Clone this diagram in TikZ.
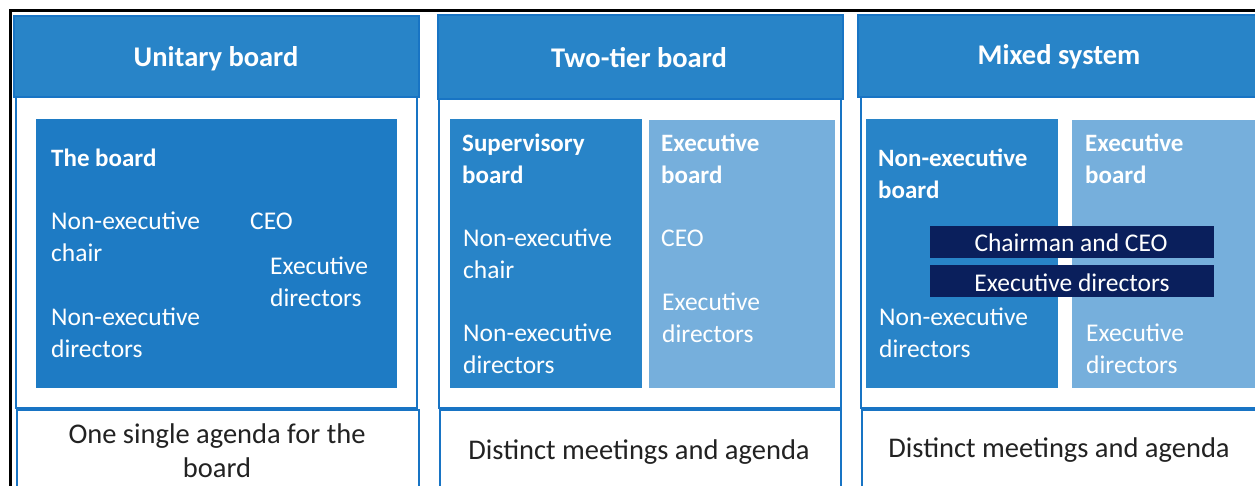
\documentclass[tikz,border=0pt]{standalone}
\usepackage{fontspec}
\setmainfont{Carlito}

\definecolor{headblue}{HTML}{2884C8}
\definecolor{edgeblue}{HTML}{1874C4}
\definecolor{boardblue}{HTML}{1E7BC4}
\definecolor{supblue}{HTML}{2884C8}
\definecolor{execblue}{HTML}{76AFDC}
\definecolor{navyblue}{HTML}{0A1F5C}
\definecolor{agendagray}{HTML}{222222}

\tikzset{
  head/.style={fill=headblue, draw=edgeblue, line width=1.5pt},
  panel/.style={fill=white, draw=edgeblue, line width=2pt},
  title/.style={text=white, font=\bfseries\fontsize{28.5}{32}\selectfont},
  lbl/.style={text=white, font=\fontsize{25.5}{32}\selectfont, align=left, anchor=west, inner sep=0pt},
  lblbold/.style={lbl, font=\bfseries\fontsize{25}{32}\selectfont},
  bar/.style={fill=navyblue, draw=none},
  agenda/.style={text=agendagray, font=\fontsize{28.5}{34}\selectfont, align=center}
}

\begin{document}
\begin{tikzpicture}[x=1pt,y=-1pt]
  \useasboundingbox (0,0) rectangle (1255,486);

  % Outer frame
  \draw[line width=3pt] (10,490) -- (10,11) -- (1260,11);

  % Column panels and agenda boxes
  \draw[panel] (16,97) rectangle (417,408);
  \draw[panel] (17,410) rectangle (419,495);
  \draw[panel] (439,99) rectangle (841,408);
  \draw[panel] (440,410) rectangle (841,495);
  \draw[panel] (861,97) rectangle (1262,408);
  \draw[panel] (862,410) rectangle (1262,495);

  % Column headers
  \draw[head] (14,16) rectangle (419,97);
  \draw[head] (438,15) rectangle (843,99);
  \draw[head] (858,15) rectangle (1262,97);
  \node[title] (unitary) at (216,59) {Unitary board};
  \node[title] (twotier) at (639,58) {Two-tier board};
  \node[title] (mixed) at (1059,57) {Mixed system};

  % Unitary board
  \fill[boardblue] (36,119) rectangle (397,388);
  \node[lblbold] (theboard) at (51,158) {The board};
  \node[lbl] (uchair) at (51,237) {Non-executive\\chair};
  \node[lbl] (ceo) at (250,221) {CEO};
  \node[lbl] (uexec) at (270,282) {Executive\\directors};
  \node[lbl] (unonexec) at (51,333) {Non-executive\\directors};

  % Two-tier board
  \fill[supblue] (450,119) rectangle (642,388);
  \fill[execblue] (649,120) rectangle (835,388);
  \node[lblbold] (superv) at (462,159) {Supervisory\\board};
  \node[lbl] (tchair) at (463,254) {Non-executive\\chair};
  \node[lbl] (tnonexec) at (463,349) {Non-executive\\directors};
  \node[lblbold] (execbd) at (661,159) {Executive\\board};
  \node[lbl] (tceo) at (661,238) {CEO};
  \node[lbl] (texec) at (662,318) {Executive\\directors};

  % Mixed system
  \fill[supblue] (866,119) rectangle (1058,388);
  \fill[execblue] (1072,120) rectangle (1262,388);
  \node[lblbold] (nonexecbd) at (878,174) {Non-executive\\board};
  \node[lbl] (mnonexec) at (879,333) {Non-executive\\directors};
  \node[lblbold] (mexecbd) at (1085,159) {Executive\\board};
  \node[lbl] (mexec) at (1086,349) {Executive\\directors};
  \fill[bar] (930,226) rectangle (1214,258);
  \fill[bar] (930,265) rectangle (1214,297);
  \node[lbl, anchor=center] (chairceo) at (1071,243) {Chairman and CEO};
  \node[lbl, anchor=center] (mdirectors) at (1072,283) {Executive directors};

  % Agenda texts
  \node[agenda] (single) at (217,451) {One single agenda for the\\board};
  \node[agenda] (distinct) at (639,452) {Distinct meetings and agenda};
  \node[agenda] (distinctmix) at (1059,450) {Distinct meetings and agenda};
\end{tikzpicture}
\end{document}
